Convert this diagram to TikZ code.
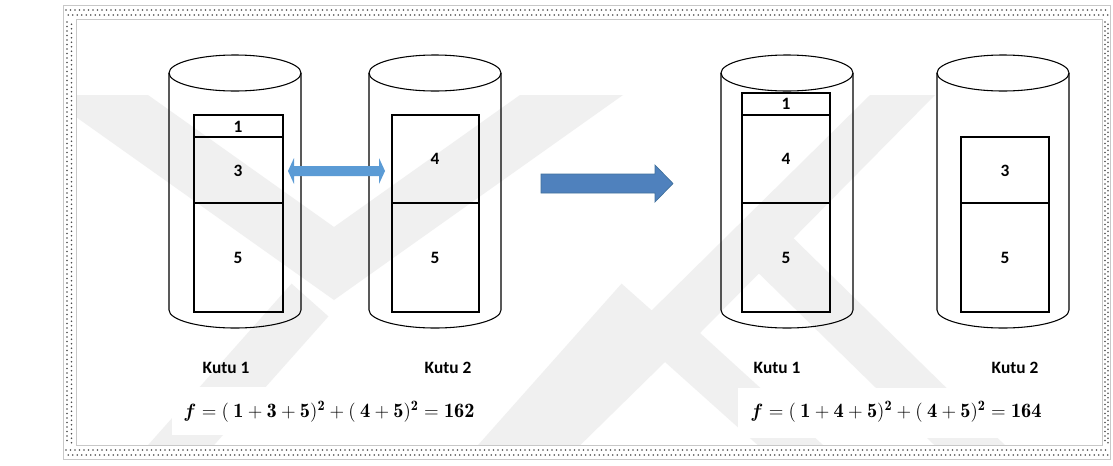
\documentclass[tikz,border=0pt]{standalone}
\usepackage{fontspec}
\usepackage{amsmath}
\newfontfamily\labelfont{Carlito}
\definecolor{swapblue}{HTML}{5B9BD5}
\definecolor{blockblue}{HTML}{4F81BD}
\definecolor{blockedge}{HTML}{41719C}
\definecolor{framegray}{HTML}{C8C8C8}
\definecolor{bandgray}{HTML}{F0F0F0}
\newcommand\objone{$\boldsymbol{f} = (\mkern4mu \mathbf{1}+\mathbf{3}+\mathbf{5})^{\mathbf{2}}+(\mkern4mu \mathbf{4}+\mathbf{5})^{\mathbf{2}} = \mathbf{162}$}
\newcommand\objtwo{$\boldsymbol{f} = (\mkern4mu \mathbf{1}+\mathbf{4}+\mathbf{5})^{\mathbf{2}}+(\mkern4mu \mathbf{4}+\mathbf{5})^{\mathbf{2}} = \mathbf{164}$}
\tikzset{
  outline/.style={draw=black, line width=0.8pt},
  band/.style={draw=bandgray, line width=37pt, line cap=butt},
  dotc/.style={fill=black!70},
  num/.style={font=\labelfont\bfseries\fontsize{13}{15}\selectfont, inner sep=0pt},
  boxname/.style={font=\labelfont\bfseries\fontsize{13}{15}\selectfont, inner sep=0pt},
  eqnstyle/.style={inner sep=0pt, font=\fontsize{15.3}{18}\selectfont},
  drum/.pic={
    \draw[outline] (0,73) ellipse[x radius=66, y radius=18];
    \draw[outline] (-66,73) -- (-66,310)
      arc[start angle=180, end angle=0, x radius=66, y radius=18] -- (66,73);
  }
}
\begin{document}
\begin{tikzpicture}[x=0.75pt, y=-0.75pt]
\useasboundingbox (0,0) rectangle (1113,465);
\fill[white] (0,0) rectangle (1113,465);

% dotted page frame
\draw[framegray, line width=0.6pt] (63,5) rectangle (1110,459);
\draw[framegray, line width=0.6pt] (76,19) rectangle (1102,445);
\foreach \i in {0,...,231} {
  \fill[dotc] ({66+4.5*\i},10) circle[radius=0.95];
  \fill[dotc] ({68.25+4.5*\i},15) circle[radius=0.95];
  \fill[dotc] ({66+4.5*\i},450) circle[radius=0.95];
  \fill[dotc] ({68.25+4.5*\i},455) circle[radius=0.95];
}
\foreach \j in {0,...,93} {
  \fill[dotc] (67,{22+4.5*\j}) circle[radius=0.95];
  \fill[dotc] (71.5,{24.25+4.5*\j}) circle[radius=0.95];
  \fill[dotc] (1105,{22+4.5*\j}) circle[radius=0.95];
  \fill[dotc] (1108,{24.25+4.5*\j}) circle[radius=0.95];
}

% faint background emblem
\begin{scope}
\clip (77,20) rectangle (1101,444);
\fill[bandgray] (45,95) -- (148,95) -- (334,227) -- (520,95) -- (623,95)
  -- (334,300) -- cycle;
\draw[band] (150,480) -- (310,300);
\draw[band] (480,480) -- (640,300);
\fill[bandgray] (870,95) -- (935,95) -- (700,333) -- (845,465) -- (780,465)
  -- (665,362) -- (560,465) -- (495,465) -- cycle;
\draw[band] (760,240) -- (990,465);
\end{scope}

% white panels behind the formulas
\fill[white] (172,387) rectangle (484,435);
\fill[white] (738,388) rectangle (1052,438);

% four drums
\pic at (235,0) {drum};
\pic at (435,0) {drum};
\pic at (787,0) {drum};
\pic at (1003,0) {drum};

% contents of the left pair
\draw[outline] (194,115) rectangle (283,312);
\draw[outline] (194,137) -- (283,137);
\draw[outline] (194,203) -- (283,203);
\node[num] (a1) at (238,127) {1};
\node[num] (a3) at (238,171) {3};
\node[num] (a5) at (238,258) {5};

\draw[outline] (392,115) rectangle (479,312);
\draw[outline] (392,203) -- (479,203);
\node[num] (b4) at (435,159) {4};
\node[num] (b5) at (435,258) {5};

% contents of the right pair
\draw[outline] (742,93) rectangle (830,312);
\draw[outline] (742,115) -- (830,115);
\draw[outline] (742,203) -- (830,203);
\node[num] (c1) at (786,104) {1};
\node[num] (c4) at (786,159) {4};
\node[num] (c5) at (786,258) {5};

\draw[outline] (961,137) rectangle (1049,312);
\draw[outline] (961,203) -- (1049,203);
\node[num] (d3) at (1005,171) {3};
\node[num] (d5) at (1005,258) {5};

% swap arrow between the left drums
\coordinate (swapL) at (288,171);
\coordinate (swapR) at (385,171);
\fill[swapblue] (swapL) -- ++(6,-13) -- ++(0,8) -- ++(85,0) -- ++(0,-8)
  -- (swapR) -- ++(-6,13) -- ++(0,-8) -- ++(-85,0) -- ++(0,8) -- cycle;

% step arrow
\coordinate (stepS) at (541,183.5);
\coordinate (stepE) at (673,183.5);
\filldraw[fill=blockblue, draw=blockedge, line width=0.5pt]
  (stepS) ++(0,-9.5) -- ++(114,0) -- ++(0,-9) -- (stepE) -- ++(-18,18.5)
  -- ++(0,-9) -- ++(-114,0) -- cycle;

% names under the drums
\node[boxname] (n1) at (226,368) {Kutu 1};
\node[boxname] (n2) at (448,368) {Kutu 2};
\node[boxname] (n3) at (777,368) {Kutu 1};
\node[boxname] (n4) at (1015,368) {Kutu 2};

% objective values
\node[eqnstyle] (eqA) at (329,412) {\objone};
\node[eqnstyle] (eqB) at (896,412) {\objtwo};
\end{tikzpicture}
\end{document}
